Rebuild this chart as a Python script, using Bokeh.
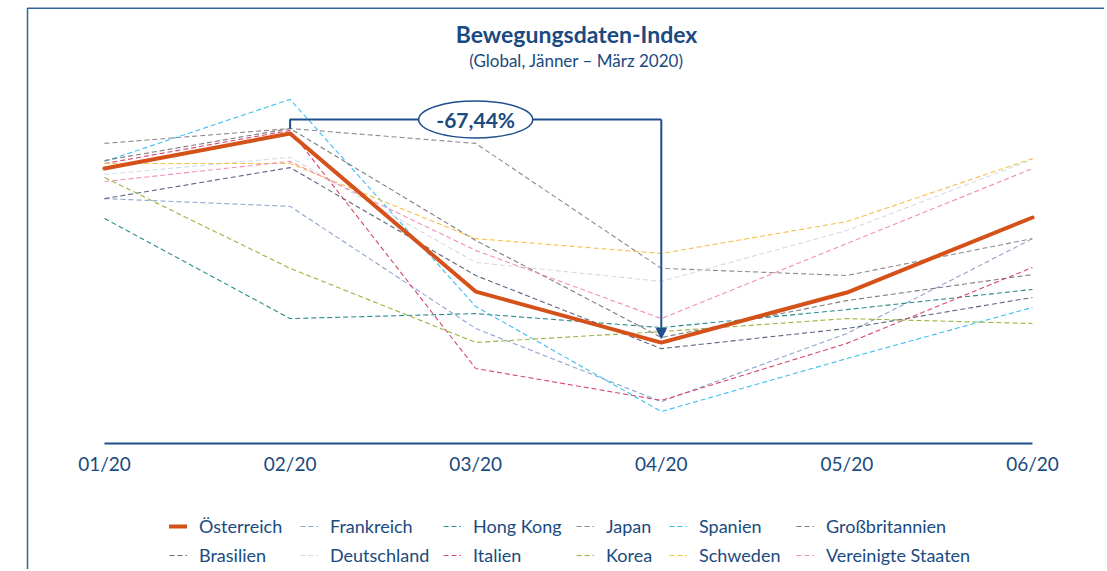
from bokeh.plotting import figure
from bokeh.models import (FixedTicker, Legend, LegendItem, Arrow, NormalHead, Range1d)
from bokeh.embed import file_html
from bokeh.resources import INLINE
from bokeh.core.properties import value

months = ["01/20", "02/20", "03/20", "04/20", "05/20", "06/20"]

oesterreich = [88.7, 100.0, 49.0, 32.56, 48.7, 72.9]
frankreich = [79.0, 76.5, 37.1, 13.5, 35.5, 66.1]
hong_kong = [72.6, 40.3, 41.9, 37.4, 43.2, 49.7]
japan = [96.8, 101.6, 96.8, 56.5, 54.2, 66.1]
spanien = [91.0, 111.0, 44.2, 10.3, 27.4, 43.9]
grossbritannien = [91.3, 101.6, 65.5, 34.2, 46.1, 54.5]
brasilien = [79.0, 89.0, 54.2, 30.6, 37.1, 47.1]
deutschland = [86.8, 92.3, 58.4, 52.3, 68.7, 91.6]
italien = [90.3, 101.0, 24.2, 13.9, 32.3, 56.8]
korea = [85.8, 56.5, 32.6, 36.1, 40.3, 38.7]
schweden = [90.3, 90.3, 66.1, 61.3, 71.6, 91.9]
vereinigte_staaten = [84.5, 91.0, 62.3, 40.3, 64.5, 88.7]

series = [
    ("Österreich", oesterreich, "#d4521a"),
    ("Frankreich", frankreich, "#8ea5cc"),
    ("Hong Kong", hong_kong, "#2a8c8c"),
    ("Japan", japan, "#8c8c8c"),
    ("Spanien", spanien, "#3cbff0"),
    ("Großbritannien", grossbritannien, "#7d7d7d"),
    ("Brasilien", brasilien, "#5b6680"),
    ("Deutschland", deutschland, "#d3dbe9"),
    ("Italien", italien, "#d6476e"),
    ("Korea", korea, "#9cb43c"),
    ("Schweden", schweden, "#f6bf4a"),
    ("Vereinigte Staaten", vereinigte_staaten, "#f190b5"),
]

BLUE = "#1a4a80"
LINE_BLUE = "#1f4e8c"
FONT = "Lato"
xs = list(range(len(months)))

# canvas geometry (screenshot pixels); the frame fills the whole canvas
W, H = 1104, 569
OX, OY = 0, 0
X0_PX, X_STEP = 104.0, 185.6      # x of first month, px per month
Y0_PX, Y_SCALE = 443.0, 3.1       # y of value 0, px per unit


def dx(px):
    return (px - X0_PX) / X_STEP


def dy(py):
    return (Y0_PX - py) / Y_SCALE


p = figure(width=W, height=H, x_range=Range1d(dx(OX), dx(OX + W)), y_range=Range1d(dy(OY + H), dy(OY)),
           output_backend="svg", toolbar_location=None,
           min_border_left=0, min_border_right=0, min_border_top=0, min_border_bottom=0)
p.outline_line_color = None
p.grid.visible = False
p.yaxis.visible = False
p.background_fill_color = "white"
p.border_fill_color = "white"

ax = p.xaxis[0]
ax.fixed_location = 0
ax.ticker = FixedTicker(ticks=xs)
ax.major_label_overrides = {i: m for i, m in enumerate(months)}
ax.bounds = (0, len(months) - 1)
ax.axis_line_color = LINE_BLUE
ax.axis_line_width = 2
ax.major_tick_line_color = None
ax.minor_tick_line_color = None
ax.major_label_text_font = FONT
ax.major_label_text_font_size = "19px"
ax.major_label_text_color = BLUE
ax.major_label_standoff = 2

# frame of the graphic box (left and top edges)
p.line([dx(27), dx(27), dx(OX + W)], [dy(OY + H), dy(7.75), dy(7.75)], line_color="#2f62a0", line_width=1.5)

renderers = {}
for name, vals, color in series[1:]:
    renderers[name] = p.line(xs, vals, line_color=color, line_width=1.1, line_dash="5 3")
name, vals, color = series[0]
renderers[name] = p.line(xs, vals, line_color=color, line_width=4, line_join="round", line_cap="round")

# annotation: drop between peak and trough of Österreich
i_peak = max(range(len(oesterreich)), key=lambda i: oesterreich[i])
i_low = min(range(len(oesterreich)), key=lambda i: oesterreich[i])
peak = oesterreich[i_peak]
low = oesterreich[i_low]
pct = (low - peak) / peak * 100
label = f"{pct:.2f}".replace(".", ",") + "%"
top = peak + 4.5
p.line([i_peak, i_peak, i_low], [peak + 1.6, top, top], line_color=LINE_BLUE, line_width=2)
p.add_layout(Arrow(end=NormalHead(size=10, fill_color=LINE_BLUE, line_color=LINE_BLUE),
                   x_start=i_low, y_start=top, x_end=i_low, y_end=low + 1.3,
                   line_color=LINE_BLUE, line_width=2))
mid = (i_peak + i_low) / 2
p.ellipse(x=[mid], y=[top], width=114, height=37, width_units="screen", height_units="screen",
          fill_color="white", line_color=LINE_BLUE, line_width=1.5)
p.text(x=[mid], y=[top], text=[label], text_align="center", text_baseline="middle",
       text_font=value(FONT), text_font_style="bold", text_font_size="21px", text_color=BLUE)

# titles
p.text(x=[dx(576)], y=[dy(33)], text=["Bewegungsdaten-Index"], text_align="center", text_baseline="middle",
       text_font=value(FONT), text_font_style="bold", text_font_size="23px", text_color=BLUE)
p.text(x=[dx(576)], y=[dy(60)], text=["(Global, Jänner – März 2020)"], text_align="center",
       text_baseline="middle", text_font=value(FONT), text_font_size="17px", text_color=BLUE)

# legend: six columns of two entries
columns = [("Österreich", "Brasilien"), ("Frankreich", "Deutschland"), ("Hong Kong", "Italien"),
           ("Japan", "Korea"), ("Spanien", "Schweden"), ("Großbritannien", "Vereinigte Staaten")]
col_px = [169, 300, 443, 576, 669, 796]
row_h, row_gap, first_row_top = 20, 7, 517
leg_bottom = first_row_top + 2 * row_h + row_gap + 2
for names, cx in zip(columns, col_px):
    items = [LegendItem(label=n, renderers=[renderers[n]]) for n in names]
    lg = Legend(items=items, orientation="vertical", location=(cx - OX, (OY + H) - leg_bottom),
                glyph_width=18, glyph_height=row_h, label_height=row_h, label_standoff=12, spacing=row_gap,
                label_text_font=FONT, label_text_font_size="18px", label_text_color=BLUE,
                border_line_color=None, background_fill_alpha=0, padding=0, margin=0)
    p.add_layout(lg)

open("out.html", "w").write(file_html(p, INLINE))
